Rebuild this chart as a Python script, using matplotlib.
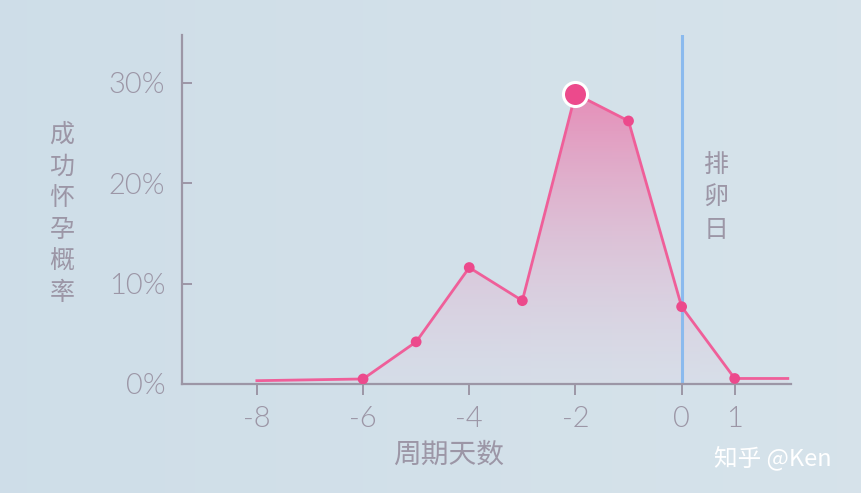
import numpy as np
import matplotlib
matplotlib.use("Agg")
import matplotlib.pyplot as plt
from matplotlib.patches import Polygon

plt.rcParams['font.family'] = ['Noto Sans CJK SC', 'DejaVu Sans']

# cycle day relative to ovulation, and chance of conception (%)
days = [-8, -6, -5, -4, -3, -2, -1, 0, 1, 2]
prob = [0.33, 0.5, 4.2, 11.6, 8.3, 28.9, 26.2, 7.7, 0.55, 0.55]
marked_days = [-6, -5, -4, -3, -1, 0, 1]
peak_day = -2
x_ticks = [-8, -6, -4, -2, 0, 1]
y_ticks = [0, 10, 20, 30]
y_ticklabels = ["0%", "10%", "20%", "30%"]
ylabel_text = "成\n功\n怀\n孕\n概\n率"
xlabel_text = "周期天数"
ovulation_text = "排\n卵\n日"
watermark = "知乎 @Ken"

BG = "#d4e2e9"
GREY = "#9c96a6"
PINK = "#ef5f99"
DOT = "#ec4a8c"
BLUE = "#8bbaee"

fig = plt.figure(figsize=(8.61, 4.93), dpi=100)
fig.patch.set_facecolor(BG)

# faint background gradient, a bit darker on the left
bg = np.linspace(0, 1, 256)[None, :]
bgax = fig.add_axes([0, 0, 1, 1], zorder=-10)
c0 = np.array([0.81, 0.87, 0.91])
c1 = np.array([0.84, 0.89, 0.92])
img = c0[None, None, :] * (1 - bg[..., None]) + c1[None, None, :] * bg[..., None]
bgax.imshow(img, aspect="auto", extent=[0, 1, 0, 1])
bgax.axis("off")

ax = fig.add_axes([182 / 861, 1 - 384 / 493, (791 - 182) / 861, (384 - 35) / 493])
ax.set_facecolor("none")
ax.set_xlim(-9.41, 2.06)
ax.set_ylim(0, 34.76)

# gradient fill under the curve
xs = np.array(days, dtype=float)
ys = np.array(prob)
poly = Polygon(np.column_stack([np.r_[xs, xs[-1], xs[0]], np.r_[ys, 0, 0]]),
               closed=True, facecolor="none", edgecolor="none")
ax.add_patch(poly)
grad = np.linspace(0, 1, 256)[:, None]
rgba = np.zeros((256, 1, 4))
top = np.array([0.91, 0.52, 0.70])
bot = np.array([0.87, 0.84, 0.90])
rgba[..., :3] = bot * (1 - grad[..., None]) + top * grad[..., None]
rgba[..., 3] = 0.3 + 0.6 * grad
im = ax.imshow(rgba, aspect="auto", origin="lower",
               extent=[xs[0], xs[-1], 0, max(prob)], zorder=1)
im.set_clip_path(poly)

ax.plot(days, prob, color=PINK, lw=2.0, zorder=3, solid_joinstyle="round")
mk = [prob[days.index(d)] for d in marked_days]
ax.scatter(marked_days, mk, s=60, color=DOT, zorder=4, edgecolors="none")
ax.scatter([peak_day], [prob[days.index(peak_day)]], s=300, color=DOT,
           edgecolors="white", linewidths=2.2, zorder=5)

ax.axvline(0, color=BLUE, lw=2.2, zorder=2)

for s in ["top", "right"]:
    ax.spines[s].set_visible(False)
for s in ["left", "bottom"]:
    ax.spines[s].set_color(GREY)
    ax.spines[s].set_linewidth(1.6)

ax.set_xticks(x_ticks)
ax.set_xticklabels([str(t) for t in x_ticks])
ax.set_yticks(y_ticks)
ax.set_yticklabels(y_ticklabels)
ax.tick_params(axis="x", direction="out", length=8, width=1.4, color=GREY,
               labelcolor=GREY, labelsize=21, pad=8)
ax.tick_params(axis="y", direction="in", length=7, width=1.4, color=GREY,
               labelcolor=GREY, labelsize=21, pad=12)
for lab in ax.get_xticklabels() + ax.get_yticklabels():
    lab.set_family("Lato")
    lab.set_fontweight(300)

fig.text(62 / 861, 1 - 214 / 493, ylabel_text, ha="center", va="center",
         color=GREY, fontsize=18, linespacing=1.28)
fig.text(449 / 861, 1 - 455 / 493, xlabel_text, ha="center", va="center",
         color=GREY, fontsize=20)
fig.text(716 / 861, 1 - 198 / 493, ovulation_text, ha="center", va="center",
         color=GREY, fontsize=18, linespacing=1.28)
fig.text(773 / 861, 1 - 458 / 493, watermark, ha="center", va="center",
         color="white", fontsize=17)

fig.savefig("out.png", dpi=100, facecolor=BG)
